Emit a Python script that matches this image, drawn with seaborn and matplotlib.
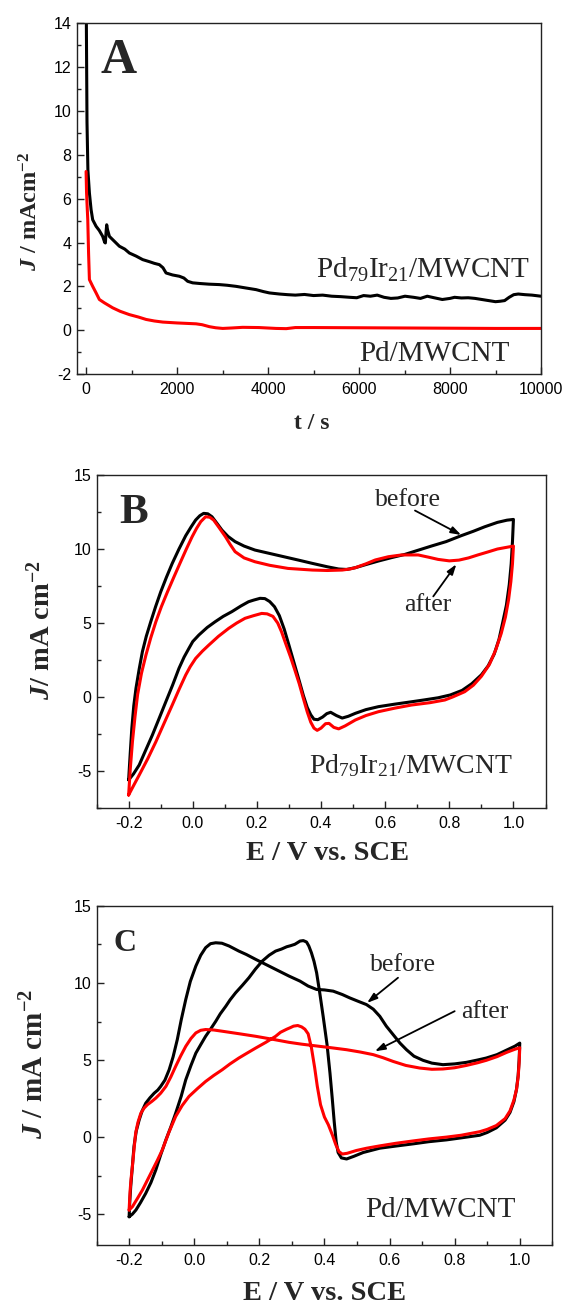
import numpy as np
import matplotlib
matplotlib.use("Agg")
import matplotlib.pyplot as plt
from matplotlib.ticker import MultipleLocator, FormatStrFormatter
import seaborn as sns

# panel A: chronoamperometry
t_ir = [0, 20, 40, 73, 110, 145, 220, 290, 365, 410, 424, 440, 453, 470, 512, 600, 732, 850, 952,
        1100, 1244, 1400, 1500, 1611, 1690, 1758, 1900, 2051, 2150, 2233, 2343, 2500, 2700, 2930,
        3100, 3297, 3500, 3737, 3900, 4029, 4250, 4431, 4600, 4800, 5000, 5200, 5400, 5600, 5800,
        5950, 6100, 6250, 6400, 6550, 6700, 6850, 7010, 7200, 7350, 7500, 7650, 7830, 8000, 8100,
        8250, 8400, 8550, 8700, 8850, 9000, 9100, 9200, 9300, 9400, 9500, 9650, 9800, 10000]
j_ir = [16, 9.5, 7.3, 6.26, 5.5, 5.04, 4.74, 4.55, 4.28, 4.0, 3.98, 4.5, 4.81, 4.6, 4.28, 4.1, 3.83,
        3.7, 3.52, 3.38, 3.22, 3.12, 3.05, 2.99, 2.85, 2.61, 2.52, 2.46, 2.38, 2.23, 2.16, 2.13, 2.1,
        2.08, 2.05, 2.0, 1.93, 1.85, 1.76, 1.7, 1.65, 1.62, 1.6, 1.63, 1.58, 1.6, 1.55, 1.53, 1.5,
        1.48, 1.58, 1.55, 1.6, 1.5, 1.45, 1.47, 1.55, 1.5, 1.45, 1.55, 1.48, 1.4, 1.45, 1.5, 1.47,
        1.48, 1.45, 1.4, 1.35, 1.3, 1.32, 1.35, 1.5, 1.62, 1.65, 1.62, 1.6, 1.55]
t_pd = [0, 10, 20, 37, 55, 73, 110, 145, 220, 292, 400, 585, 750, 952, 1150, 1319, 1500, 1685, 2000,
        2418, 2550, 2710, 2850, 3003, 3200, 3442, 3800, 4175, 4400, 4600, 5000, 6000, 7000, 8000,
        9000, 10000]
j_pd = [7.24, 6.3, 5.8, 5.04, 3.5, 2.31, 2.15, 2.0, 1.7, 1.4, 1.25, 1.02, 0.86, 0.71, 0.6, 0.49, 0.42,
        0.37, 0.33, 0.29, 0.25, 0.16, 0.11, 0.08, 0.1, 0.13, 0.12, 0.08, 0.07, 0.12, 0.12, 0.11, 0.1,
        0.09, 0.08, 0.08]

# panel B: Pd79Ir21/MWCNT CVs (closed loops, in scan order)
e_b_before = [-0.2, -0.195, -0.19, -0.184, -0.177, -0.167, -0.157, -0.145, -0.131, -0.116, -0.1,
              -0.082, -0.064, -0.043, -0.022, -0.005, 0.009, 0.022, 0.034, 0.047, 0.06, 0.075, 0.091,
              0.11, 0.132, 0.16, 0.194, 0.24, 0.28, 0.33, 0.373, 0.42, 0.455, 0.48, 0.507, 0.54,
              0.579, 0.62, 0.662, 0.7, 0.744, 0.79, 0.837, 0.875, 0.91, 0.95, 0.98, 1.0,
              0.997, 0.993, 0.987, 0.978, 0.966, 0.955, 0.94, 0.921, 0.9, 0.87, 0.84, 0.803, 0.765,
              0.72, 0.682, 0.63, 0.579, 0.54, 0.507, 0.485, 0.466, 0.448, 0.43, 0.418, 0.405, 0.39,
              0.378, 0.368, 0.357, 0.345, 0.332, 0.316, 0.3, 0.285, 0.27, 0.255, 0.24, 0.225, 0.21,
              0.19, 0.174, 0.15, 0.122, 0.095, 0.07, 0.045, 0.019, 0.0, -0.012, -0.027, -0.043,
              -0.063, -0.084, -0.105, -0.126, -0.147, -0.167, -0.185, -0.2]
j_b_before = [-5.6, -3.8, -2.1, -0.6, 0.6, 1.9, 3.07, 4.1, 5.09, 6.1, 7.1, 8.1, 9.03, 10.0, 10.9,
              11.5, 11.96, 12.25, 12.41, 12.38, 12.18, 11.75, 11.28, 10.85, 10.5, 10.2, 9.93, 9.7,
              9.5, 9.25, 9.03, 8.8, 8.65, 8.62, 8.74, 8.95, 9.19, 9.42, 9.64, 9.9, 10.2, 10.5, 10.9,
              11.2, 11.5, 11.8, 11.95, 12.0,
              10.5, 9.0, 7.6, 6.2, 4.98, 3.9, 2.9, 2.1, 1.5, 0.9, 0.45, 0.14, -0.05, -0.2, -0.32,
              -0.48, -0.65, -0.85, -1.1, -1.3, -1.42, -1.25, -1.03, -1.12, -1.35, -1.53, -1.5, -1.2,
              -0.7, 0.1, 1.1, 2.3, 3.5, 4.6, 5.5, 6.1, 6.45, 6.65, 6.67, 6.55, 6.44, 6.15, 5.77, 5.45,
              5.09, 4.7, 4.19, 3.75, 3.29, 2.7, 1.94, 0.8, -0.32, -1.45, -2.57, -3.6, -4.59, -5.2,
              -5.6]
e_b_after = [-0.2, -0.195, -0.188, -0.18, -0.172, -0.16, -0.146, -0.131, -0.115, -0.098, -0.079,
             -0.058, -0.038, -0.02, -0.002, 0.012, 0.025, 0.04, 0.053, 0.065, 0.082, 0.102, 0.117,
             0.132, 0.16, 0.194, 0.24, 0.297, 0.373, 0.42, 0.466, 0.49, 0.507, 0.54, 0.569, 0.61,
             0.651, 0.703, 0.735, 0.765, 0.8, 0.83, 0.86, 0.889, 0.92, 0.95, 0.975, 1.0,
             0.997, 0.992, 0.985, 0.975, 0.962, 0.945, 0.925, 0.9, 0.875, 0.848, 0.81, 0.786, 0.74,
             0.682, 0.63, 0.579, 0.54, 0.507, 0.475, 0.455, 0.44, 0.425, 0.414, 0.4, 0.388, 0.378,
             0.368, 0.357, 0.345, 0.332, 0.318, 0.305, 0.29, 0.277, 0.265, 0.25, 0.232, 0.215, 0.19,
             0.163, 0.137, 0.112, 0.08, 0.05, 0.03, 0.009, -0.008, -0.022, -0.043, -0.064, -0.09,
             -0.115, -0.14, -0.167, -0.185, -0.2]
j_b_after = [-6.62, -4.9, -3.0, -1.3, 0.17, 1.6, 2.84, 4.0, 5.09, 6.1, 7.1, 8.15, 9.13, 10.0, 10.83,
             11.4, 11.85, 12.18, 12.15, 11.96, 11.45, 10.83, 10.3, 9.82, 9.4, 9.14, 8.9, 8.69, 8.58,
             8.55, 8.58, 8.65, 8.74, 9.0, 9.26, 9.48, 9.6, 9.6, 9.45, 9.3, 9.2, 9.25, 9.4, 9.6, 9.8,
             10.0, 10.1, 10.2,
             9.0, 7.8, 6.6, 5.4, 4.3, 3.2, 2.2, 1.4, 0.8, 0.36, 0.0, -0.2, -0.38, -0.54, -0.75,
             -0.99, -1.25, -1.55, -1.95, -2.15, -2.05, -1.78, -1.8, -2.1, -2.25, -2.1, -1.7, -1.0,
             -0.1, 0.9, 1.85, 2.7, 3.6, 4.4, 5.0, 5.45, 5.62, 5.65, 5.5, 5.32, 5.0, 4.64, 4.1, 3.51,
             3.1, 2.61, 2.05, 1.49, 0.5, -0.54, -1.8, -3.02, -4.15, -5.27, -6.0, -6.62]

# panel C: Pd/MWCNT CVs
e_c_before = [-0.2, -0.198, -0.195, -0.19, -0.185, -0.178, -0.169, -0.16, -0.149, -0.136, -0.123,
              -0.112, -0.103, -0.09, -0.077, -0.065, -0.052, -0.04, -0.026, -0.012, 0.005, 0.02,
              0.035, 0.05, 0.066, 0.085, 0.107, 0.137, 0.16, 0.189, 0.24, 0.291, 0.325, 0.35, 0.376,
              0.4, 0.427, 0.455, 0.478, 0.505, 0.529, 0.55, 0.57, 0.59, 0.611, 0.632, 0.652, 0.675,
              0.703, 0.73, 0.764, 0.8, 0.836, 0.87, 0.897, 0.93, 0.96, 0.985, 1.0,
              0.998, 0.995, 0.99, 0.982, 0.97, 0.955, 0.928, 0.9, 0.877, 0.82, 0.775, 0.72, 0.672,
              0.62, 0.57, 0.519, 0.49, 0.468, 0.452, 0.442, 0.436, 0.43, 0.424, 0.417, 0.408, 0.396,
              0.386, 0.376, 0.368, 0.36, 0.352, 0.345, 0.335, 0.325, 0.316, 0.309, 0.296, 0.284,
              0.268, 0.25, 0.23, 0.209, 0.188, 0.168, 0.148, 0.127, 0.11, 0.097, 0.08, 0.066, 0.05,
              0.035, 0.02, 0.005, -0.01, -0.026, -0.04, -0.057, -0.072, -0.087, -0.103, -0.118,
              -0.133, -0.149, -0.165, -0.179, -0.19, -0.2]
j_c_before = [-5.17, -4.2, -3.2, -1.9, -0.6, 0.4, 1.12, 1.7, 2.2, 2.55, 2.85, 3.05, 3.29, 3.7, 4.37,
              5.2, 6.33, 7.6, 8.93, 10.1, 11.1, 11.8, 12.29, 12.55, 12.61, 12.58, 12.4, 12.07, 11.85,
              11.53, 10.99, 10.45, 10.12, 9.8, 9.58, 9.55, 9.47, 9.25, 9.03, 8.8, 8.6, 8.3, 7.84, 7.2,
              6.65, 6.1, 5.67, 5.25, 4.98, 4.8, 4.7, 4.75, 4.85, 5.0, 5.13, 5.35, 5.65, 5.9, 6.1,
              5.0, 4.0, 3.1, 2.3, 1.6, 1.1, 0.6, 0.3, 0.12, -0.05, -0.18, -0.3, -0.44, -0.58, -0.72,
              -1.0, -1.25, -1.42, -1.35, -1.0, -0.3, 1.0, 2.5, 4.15, 6.0, 7.84, 9.3, 10.66, 11.4,
              11.96, 12.4, 12.66, 12.75, 12.72, 12.6, 12.51, 12.42, 12.35, 12.2, 12.07, 11.8, 11.42,
              10.9, 10.34, 9.85, 9.36, 8.9, 8.49, 8.0, 7.51, 7.0, 6.54, 6.0, 5.45, 4.65, 3.72, 2.65,
              1.55, 0.65, -0.18, -1.15, -2.13, -2.95, -3.65, -4.25, -4.73, -5.0, -5.17]
e_c_after = [-0.2, -0.197, -0.194, -0.19, -0.185, -0.18, -0.173, -0.164, -0.154, -0.144, -0.13,
             -0.118, -0.103, -0.087, -0.072, -0.057, -0.042, -0.026, -0.01, 0.005, 0.02, 0.035,
             0.06, 0.086, 0.14, 0.189, 0.24, 0.291, 0.33, 0.365, 0.42, 0.468, 0.51, 0.55, 0.58,
             0.611, 0.65, 0.693, 0.73, 0.764, 0.8, 0.836, 0.87, 0.897, 0.93, 0.96, 0.985, 1.0,
             0.998, 0.995, 0.99, 0.982, 0.97, 0.955, 0.928, 0.9, 0.877, 0.82, 0.775, 0.72, 0.672,
             0.62, 0.57, 0.53, 0.498, 0.47, 0.455, 0.445, 0.435, 0.425, 0.412, 0.4, 0.388, 0.378,
             0.37, 0.36, 0.35, 0.34, 0.33, 0.318, 0.305, 0.295, 0.284, 0.265, 0.25, 0.22, 0.189,
             0.16, 0.137, 0.11, 0.086, 0.06, 0.035, 0.01, -0.016, -0.037, -0.057, -0.078, -0.098,
             -0.113, -0.128, -0.144, -0.159, -0.175, -0.19, -0.2]
j_c_after = [-4.73, -3.5, -2.7, -1.92, -0.8, 0.25, 0.95, 1.55, 1.88, 2.1, 2.32, 2.53, 2.85, 3.29,
             3.9, 4.59, 5.25, 5.89, 6.4, 6.76, 6.93, 6.98, 6.95, 6.87, 6.7, 6.54, 6.35, 6.15, 6.03,
             5.94, 5.8, 5.67, 5.52, 5.35, 5.15, 4.91, 4.65, 4.48, 4.4, 4.42, 4.5, 4.65, 4.82, 4.98,
             5.22, 5.5, 5.7, 5.8,
             4.8, 3.9, 3.1, 2.4, 1.7, 1.2, 0.75, 0.5, 0.35, 0.12, 0.0, -0.12, -0.25, -0.4, -0.57,
             -0.72, -0.87, -1.05, -1.1, -0.95, -0.5, 0.1, 0.8, 1.3, 2.1, 3.3, 4.5, 5.8, 6.7, 7.0,
             7.15, 7.24, 7.2, 7.1, 7.0, 6.8, 6.54, 6.15, 5.78, 5.42, 5.13, 4.75, 4.37, 4.0, 3.61,
             3.15, 2.64, 2.05, 1.34, 0.3, -0.83, -1.5, -2.13, -2.8, -3.43, -4.0, -4.52, -4.73]

sns.set_style("ticks")
plt.rcParams['font.family'] = ['Liberation Sans', 'DejaVu Sans']
plt.rcParams['axes.unicode_minus'] = False
plt.rcParams['mathtext.fontset'] = 'custom'
plt.rcParams['mathtext.rm'] = 'Liberation Serif'
plt.rcParams['mathtext.it'] = 'Liberation Serif:italic:bold'
plt.rcParams['mathtext.bf'] = 'Liberation Serif:bold'

SERIF = 'Liberation Serif'
RED = '#ff0000'
LW = 2.2

fig = plt.figure(figsize=(5.69, 13.05), dpi=100)
axA = fig.add_axes([0.1353, 0.7134, 0.8155, 0.2687])
axB = fig.add_axes([0.1697, 0.3808, 0.789, 0.2552])
axC = fig.add_axes([0.1697, 0.046, 0.801, 0.2598])


def style_axes(ax):
    for s in ax.spines.values():
        s.set_color('#222222')
        s.set_linewidth(1.0)
    ax.tick_params(which='both', direction='in', top=False, right=False,
                   colors='#222222', labelcolor='black', labelsize=11.5)
    ax.tick_params(which='major', length=5, width=1.0)
    ax.tick_params(which='minor', length=3, width=1.0)
    ax.tick_params(axis='x', pad=6)
    ax.tick_params(axis='y', pad=4)


# ---- A
sns.lineplot(x=t_ir, y=j_ir, ax=axA, color='black', lw=LW, sort=False, estimator=None)
sns.lineplot(x=t_pd, y=j_pd, ax=axA, color=RED, lw=LW, sort=False, estimator=None)
axA.set_xlim(-200, 10000)
axA.set_ylim(-2, 14)
axA.xaxis.set_major_locator(MultipleLocator(2000))
axA.xaxis.set_minor_locator(MultipleLocator(1000))
axA.yaxis.set_major_locator(MultipleLocator(2))
axA.yaxis.set_minor_locator(MultipleLocator(1))
style_axes(axA)
axA.set_xlabel('t / s', family=SERIF, fontweight='bold', fontsize=17, va='center')
axA.set_ylabel(r'$J$ / mAcm$^{\mathbf{-2}}$', family=SERIF, fontweight='bold', fontsize=17.5, va='center')
axA.xaxis.set_label_coords(0.506, -0.140)
axA.yaxis.set_label_coords(-0.099, 0.465)
axA.text(308, 11.75, 'A', family=SERIF, fontweight='bold', fontsize=36)
axA.text(5060, 2.4, r'Pd$_{79}$Ir$_{21}$/MWCNT', family=SERIF, fontsize=21)
axA.text(6000, -1.41, 'Pd/MWCNT', family=SERIF, fontsize=21)

# ---- B and C
for ax, eb, jb, ea, ja in [(axB, e_b_before, j_b_before, e_b_after, j_b_after),
                           (axC, e_c_before, j_c_before, e_c_after, j_c_after)]:
    sns.lineplot(x=eb, y=jb, ax=ax, color='black', lw=LW, sort=False, estimator=None)
    sns.lineplot(x=ea, y=ja, ax=ax, color=RED, lw=LW, sort=False, estimator=None)
    ax.set_xlim(-0.3, 1.1)
    ax.xaxis.set_major_locator(MultipleLocator(0.2))
    ax.xaxis.set_minor_locator(MultipleLocator(0.1))
    ax.xaxis.set_major_formatter(FormatStrFormatter('%.1f'))
    ax.yaxis.set_major_locator(MultipleLocator(5))
    ax.yaxis.set_minor_locator(MultipleLocator(2.5))
    style_axes(ax)
    ax.set_xlabel('E / V vs. SCE', family=SERIF, fontweight='bold', fontsize=20.5, va='center')

axB.set_ylim(-7.5, 15)
axC.set_ylim(-7, 15)
axB.set_ylabel(r'$J$/ mA cm$^{\mathbf{-2}}$', family=SERIF, fontweight='bold', fontsize=20.5, va='center')
axC.set_ylabel(r'$J$ / mA cm$^{\mathbf{-2}}$', family=SERIF, fontweight='bold', fontsize=21, va='center')
axB.xaxis.set_label_coords(0.515, -0.135)
axB.yaxis.set_label_coords(-0.122, 0.534)
axC.xaxis.set_label_coords(0.501, -0.142)
axC.yaxis.set_label_coords(-0.136, 0.534)

arrow = dict(arrowstyle='-|>,head_length=0.6,head_width=0.2', color='black', lw=1.3,
             shrinkA=0, shrinkB=0)

axB.text(-0.229, 11.74, 'B', family=SERIF, fontweight='bold', fontsize=31)
axB.text(0.569, 12.93, 'before', family=SERIF, fontsize=18.5)
axB.annotate('', xy=(0.837, 10.95), xytext=(0.693, 12.6), arrowprops=arrow)
axB.text(0.66, 5.78, 'after', family=SERIF, fontsize=18.5)
axB.annotate('', xy=(0.822, 8.97), xytext=(0.75, 6.8), arrowprops=arrow)
axB.text(0.363, -5.15, r'Pd$_{79}$Ir$_{21}$/MWCNT', family=SERIF, fontsize=20)

axC.text(-0.249, 12.07, 'C', family=SERIF, fontweight='bold', fontsize=23)
axC.text(0.541, 10.77, 'before', family=SERIF, fontsize=18.5)
axC.annotate('', xy=(0.531, 8.71), xytext=(0.626, 10.34), arrowprops=arrow)
axC.text(0.82, 7.73, 'after', family=SERIF, fontsize=18.5)
axC.annotate('', xy=(0.555, 5.57), xytext=(0.8, 8.17), arrowprops=arrow)
axC.text(0.524, -5.17, 'Pd/MWCNT', family=SERIF, fontsize=21)

fig.savefig('out.png', dpi=100)
